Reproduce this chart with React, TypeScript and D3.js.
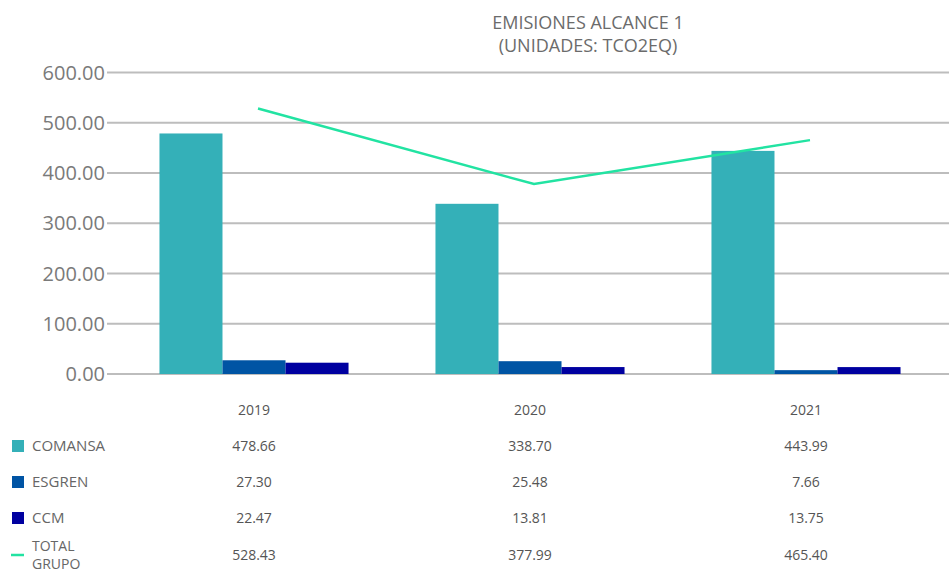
import * as d3 from "d3";
import React, { useEffect, useRef } from "react";

const years = ["2019", "2020", "2021"];
const seriesNames = ["COMANSA", "ESGREN", "CCM"];
const comansa = [478.66, 338.7, 443.99];
const esgren = [27.3, 25.48, 7.66];
const ccm = [22.47, 13.81, 13.75];
const totalGrupo = [528.43, 377.99, 465.4];
const yTicks = [0, 100, 200, 300, 400, 500, 600];

const colors = ["#34b0b8", "#0054a4", "#0000a0"];
const lineColor = "#22e3a2";

const W = 949;
const H = 572;

const EmissionsChart: React.FC = () => {
  const ref = useRef<SVGSVGElement>(null);

  useEffect(() => {
    if (!ref.current) return;
    const svg = d3.select(ref.current);
    svg.selectAll("*").remove();

    const font = "'Open Sans', sans-serif";
    const barSeries = [comansa, esgren, ccm];

    // scales
    const x = d3.scaleBand().domain(years).range([116, 944]).paddingInner(0.315).paddingOuter(0.1575);
    const xInner = d3.scaleBand().domain(seriesNames).range([0, x.bandwidth()]);
    const y = d3.scaleLinear().domain([0, 600]).range([374, 72.5]);

    // title
    const title = svg.append("text")
      .attr("x", 588)
      .attr("text-anchor", "middle")
      .style("font-family", font)
      .style("font-size", "18px")
      .attr("fill", "#6b6b6b");
    title.append("tspan").attr("x", 588).attr("y", 29).text("EMISIONES ALCANCE 1");
    title.append("tspan").attr("x", 588).attr("y", 52).text("(UNIDADES: TCO2EQ)");

    // gridlines + y labels
    const grid = svg.append("g");
    grid.selectAll("line")
      .data(yTicks)
      .enter()
      .append("line")
      .attr("x1", 107)
      .attr("x2", W)
      .attr("y1", (d) => y(d))
      .attr("y2", (d) => y(d))
      .attr("stroke", "#bdbdbd")
      .attr("stroke-width", 2);
    grid.selectAll("text")
      .data(yTicks)
      .enter()
      .append("text")
      .attr("x", 105)
      .attr("y", (d) => y(d))
      .attr("dy", "0.35em")
      .attr("text-anchor", "end")
      .style("font-family", font)
      .style("font-size", "20px")
      .attr("fill", "#7a7a7a")
      .text((d) => d3.format(".2f")(d));

    // bars
    barSeries.forEach((vals, si) => {
      svg.append("g")
        .selectAll("rect")
        .data(vals)
        .enter()
        .append("rect")
        .attr("x", (_, i) => x(years[i])! + xInner(seriesNames[si])!)
        .attr("y", (d) => y(d))
        .attr("width", xInner.bandwidth())
        .attr("height", (d) => y(0) - y(d))
        .attr("fill", colors[si]);
    });

    // total line
    const line = d3.line<number>()
      .x((_, i) => x(years[i])! + x.bandwidth() / 2 + 4)
      .y((d) => y(d));
    svg.append("path")
      .datum(totalGrupo)
      .attr("d", line)
      .attr("fill", "none")
      .attr("stroke", lineColor)
      .attr("stroke-width", 2.5);

    // data table
    const colX = (yr: string) => x(yr)! + x.bandwidth() / 2;
    const table = svg.append("g")
      .style("font-family", font)
      .style("font-size", "14px")
      .attr("fill", "#555");

    years.forEach((yr) => {
      table.append("text")
        .attr("x", colX(yr))
        .attr("y", 415)
        .attr("text-anchor", "middle")
        .text(yr);
    });

    const rows = [comansa, esgren, ccm, totalGrupo];
    const rowY = [446, 482, 518, 555];
    rows.forEach((vals, ri) => {
      vals.forEach((v, i) => {
        table.append("text")
          .attr("x", colX(years[i]))
          .attr("y", rowY[ri])
          .attr("dy", "0.35em")
          .attr("text-anchor", "middle")
          .text(d3.format(".2f")(v));
      });
      if (ri < 3) {
        table.append("rect")
          .attr("x", 12)
          .attr("y", rowY[ri] - 6)
          .attr("width", 12)
          .attr("height", 12)
          .attr("fill", colors[ri]);
        table.append("text")
          .attr("x", 32)
          .attr("y", rowY[ri])
          .attr("dy", "0.35em")
          .attr("fill", "#666")
          .style("font-size", "15px")
          .text(seriesNames[ri]);
      } else {
        table.append("line")
          .attr("x1", 11)
          .attr("x2", 24)
          .attr("y1", rowY[ri])
          .attr("y2", rowY[ri])
          .attr("stroke", lineColor)
          .attr("stroke-width", 2.5);
        const lbl = table.append("text").attr("fill", "#666").style("font-size", "14px");
        lbl.append("tspan").attr("x", 32).attr("y", rowY[ri] - 9).attr("dy", "0.35em").text("TOTAL");
        lbl.append("tspan").attr("x", 32).attr("y", rowY[ri] + 9).attr("dy", "0.35em").text("GRUPO");
      }
    });
  }, []);

  return <svg ref={ref} width={W} height={H} style={{ display: "block" }}></svg>;
};

export default function App() {
  return (
    <div style={{ position: "absolute", left: 0, top: 0 }}>
      <EmissionsChart />
    </div>
  );
}
